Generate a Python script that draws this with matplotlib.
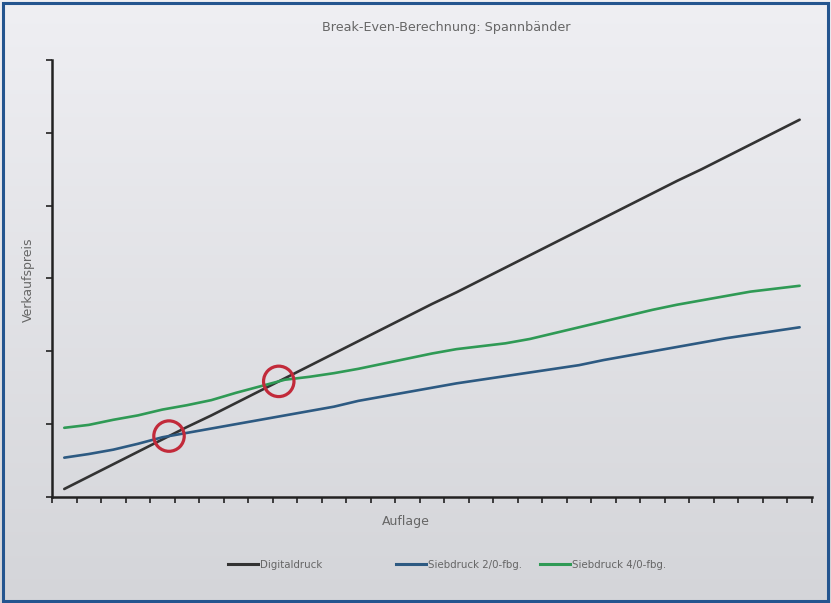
import matplotlib.pyplot as plt
import numpy as np
from matplotlib.patches import Rectangle
from matplotlib.lines import Line2D

# Verkaufspreis je Auflagenstufe (31 Stufen)
digitaldruck = [0.11, 0.28, 0.45, 0.62, 0.79, 0.96, 1.12, 1.29, 1.46, 1.63,
                1.80, 1.97, 2.14, 2.31, 2.48, 2.65, 2.81, 2.98, 3.15, 3.32,
                3.49, 3.66, 3.83, 4.00, 4.17, 4.34, 4.50, 4.67, 4.84, 5.01, 5.18]
siebdruck_2 = [0.54, 0.59, 0.65, 0.73, 0.82, 0.88, 0.94, 1.00, 1.06, 1.12,
               1.18, 1.24, 1.32, 1.38, 1.44, 1.50, 1.56, 1.61, 1.66, 1.71,
               1.76, 1.81, 1.88, 1.94, 2.00, 2.06, 2.12, 2.18, 2.23, 2.28, 2.33]
siebdruck_4 = [0.95, 0.99, 1.06, 1.12, 1.20, 1.26, 1.33, 1.43, 1.52, 1.61,
               1.65, 1.70, 1.76, 1.83, 1.90, 1.97, 2.03, 2.07, 2.11, 2.17,
               2.25, 2.33, 2.41, 2.49, 2.57, 2.64, 2.70, 2.76, 2.82, 2.86, 2.90]
labels = ['Digitaldruck', 'Siebdruck 2/0-fbg.', 'Siebdruck 4/0-fbg.']
colors = ['#333333', '#2d5a82', '#2f9a55']

x = np.arange(len(digitaldruck))


def schnittpunkt(a, b):
    # erster Schnittpunkt zweier Polylinien (lineare Interpolation)
    d = np.asarray(a) - np.asarray(b)
    k = np.where(np.sign(d[:-1]) != np.sign(d[1:]))[0][0]
    t = d[k] / (d[k] - d[k + 1])
    return k + t, a[k] + t * (a[k + 1] - a[k])


fig = plt.figure(figsize=(8.31, 6.03), dpi=100)

# Hintergrundverlauf
bg = fig.add_axes([0, 0, 1, 1], zorder=-1)
grad = np.linspace(0, 1, 256).reshape(-1, 1)
bg.imshow(grad, aspect='auto', cmap=plt.matplotlib.colors.LinearSegmentedColormap.from_list(
    'bg', ['#efeff3', '#d4d5d9']), extent=[0, 1, 0, 1])
bg.axis('off')
fig.patches.append(Rectangle((0.004, 0.004), 0.992, 0.991, transform=fig.transFigure,
                             fill=False, edgecolor='#24558f', linewidth=2.2))

ax = fig.add_axes([0.0626, 0.1758, 0.9144, 0.7247])
ax.set_facecolor('none')
for serie, lab, col in zip([digitaldruck, siebdruck_2, siebdruck_4], labels, colors):
    ax.plot(x, serie, color=col, linewidth=1.9, label=lab, solid_capstyle='round')

# Break-Even-Punkte markieren
for serie in (siebdruck_2, siebdruck_4):
    px, py = schnittpunkt(digitaldruck, serie)
    ax.scatter([px], [py], s=480, facecolors='none', edgecolors='#c22a3a',
               linewidths=2.3, zorder=5)

ax.set_xlim(-0.5, len(x) - 0.5)
ax.set_ylim(0, 6)
ax.set_xticks(np.arange(-0.5, len(x)))
ax.set_yticks(np.arange(0, 7))
ax.set_xticklabels([])
ax.set_yticklabels([])
ax.tick_params(axis='both', direction='out', length=4, width=1.2, color='#222222')
for s in ('top', 'right'):
    ax.spines[s].set_visible(False)
for s in ('left', 'bottom'):
    ax.spines[s].set_linewidth(1.8)
    ax.spines[s].set_color('#222222')

txt = '#666666'
fig.text(446 / 831, 1 - 27 / 603, 'Break-Even-Berechnung: Spannbänder',
         ha='center', va='center', fontsize=9.2, color=txt)
fig.text(28 / 831, 1 - 280 / 603, 'Verkaufspreis', rotation=90,
         ha='center', va='center', fontsize=9, color=txt)
fig.text(406 / 831, 1 - 521 / 603, 'Auflage', ha='center', va='center',
         fontsize=9, color=txt)

# Legende: drei Einträge mit eigenen Abständen
leg_x = [228, 396, 540]
for lab, col, lx in zip(labels, colors, leg_x):
    h = Line2D([], [], color=col, linewidth=2.2)
    lg = fig.legend([h], [lab], loc='center left',
                    bbox_to_anchor=(lx / 831, 1 - 565 / 603), frameon=False,
                    fontsize=7.4, handlelength=2.9, handletextpad=0.25,
                    borderpad=0, borderaxespad=0, labelcolor=txt)

fig.savefig('out.png', dpi=100)
